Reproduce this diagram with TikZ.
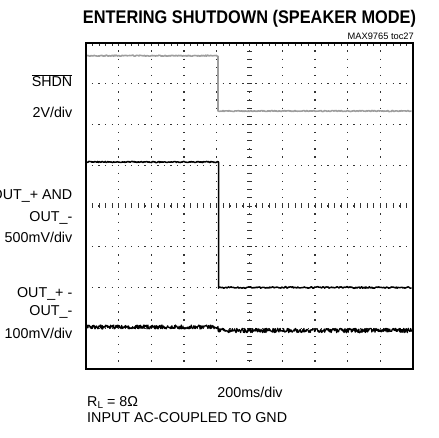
\documentclass[tikz,border=0pt]{standalone}
\usepackage{fontspec}
\setmainfont{Liberation Sans}
\usepackage{graphicx}
\begin{document}
\begin{tikzpicture}[x=1pt,y=-1pt,
  lbl/.style={inner sep=0pt,font=\fontsize{14.3}{16}\selectfont},
  vgrid/.style={line width=1.3pt,dash pattern=on 1.3pt off 6.85pt,dash phase=0.65pt,black!80},
  hgrid/.style={line width=1.3pt,dash pattern=on 1.3pt off 5.24pt,dash phase=0.65pt,black!80},
  ticks/.style={line width=0.8pt,black!80},
  graytrace/.style={line width=1.6pt,black!38,line join=round},
  blacktrace/.style={line width=1.5pt,black,line join=round},
  noisytrace/.style={line width=1.2pt,black,line join=round},
  frame/.style={line width=2.6pt,black}]
\useasboundingbox (0,0) rectangle (439,438);
\pgfmathsetseed{7}
% grid
\foreach \i in {1,...,9} \draw[vgrid] ({86+\i*32.7},43) -- ({86+\i*32.7},369);
\foreach \j in {1,...,7} \draw[hgrid] (86,{43+\j*40.75}) -- (413,{43+\j*40.75});
% centre axis ticks
\foreach \k in {1,...,39} \draw[ticks] (247,{43+\k*8.15}) -- (252,{43+\k*8.15});
\foreach \k in {1,...,49} \draw[ticks] ({86+\k*6.54},203.5) -- ({86+\k*6.54},208.5);
\foreach \k in {1,...,49} \draw[ticks] ({86+\k*6.54},43) -- ({86+\k*6.54},46.5);
% traces
\draw[graytrace] plot[domain=87:218,samples=160] (\x,{55.7+0.5*rand}) -- (218,111)
  -- plot[domain=218:411.5,samples=230] (\x,{111+0.5*rand});
\draw[blacktrace] plot[domain=87:218.5,samples=160] (\x,{162+0.6*rand}) -- (218.5,287)
  -- plot[domain=218.5:411.5,samples=230] (\x,{287.5+0.8*rand});
\draw[noisytrace] plot[domain=87:218,samples=300] (\x,{327+2.0*rand})
  -- plot[domain=218:411.5,samples=420] (\x,{330.5+2.2*rand});
% frame
\draw[frame] (86,43) rectangle (413,369);
% texts
\node[inner sep=0pt,anchor=base] (title) at (249.5,24)
  {\resizebox{333pt}{\height}{\fontsize{18.3}{20}\selectfont\bfseries ENTERING SHUTDOWN (SPEAKER MODE)}};
\node[inner sep=0pt,anchor=base east,font=\fontsize{9.3}{11}\selectfont] (toc) at (414,40) {MAX9765 toc27};
\node[lbl,anchor=base east] (shdn) at (72.5,87) {$\overline{\mbox{\fontsize{14.3}{16}\selectfont SHDN}}$};
\node[lbl,anchor=base east] (v1) at (72.5,118) {2V/div};
\node[lbl,anchor=base east] (o1) at (72.5,200) {OUT\_+ AND};
\node[lbl,anchor=base east] (o2) at (72.5,222) {OUT\_-};
\node[lbl,anchor=base east] (v2) at (72.5,243) {500mV/div};
\node[lbl,anchor=base east] (o3) at (72.5,298) {OUT\_+ -};
\node[lbl,anchor=base east] (o4) at (72.5,316) {OUT\_-};
\node[lbl,anchor=base east] (v3) at (72.5,338) {100mV/div};
\node[lbl,anchor=base] (tdiv) at (250,397) {200ms/div};
\node[lbl,anchor=base west] (rl) at (87,406) {R\raisebox{-2.5pt}{\fontsize{10}{12}\selectfont L} = 8Ω};
\node[lbl,anchor=base west] (inp) at (87,422) {INPUT AC-COUPLED TO GND};
\end{tikzpicture}
\end{document}
